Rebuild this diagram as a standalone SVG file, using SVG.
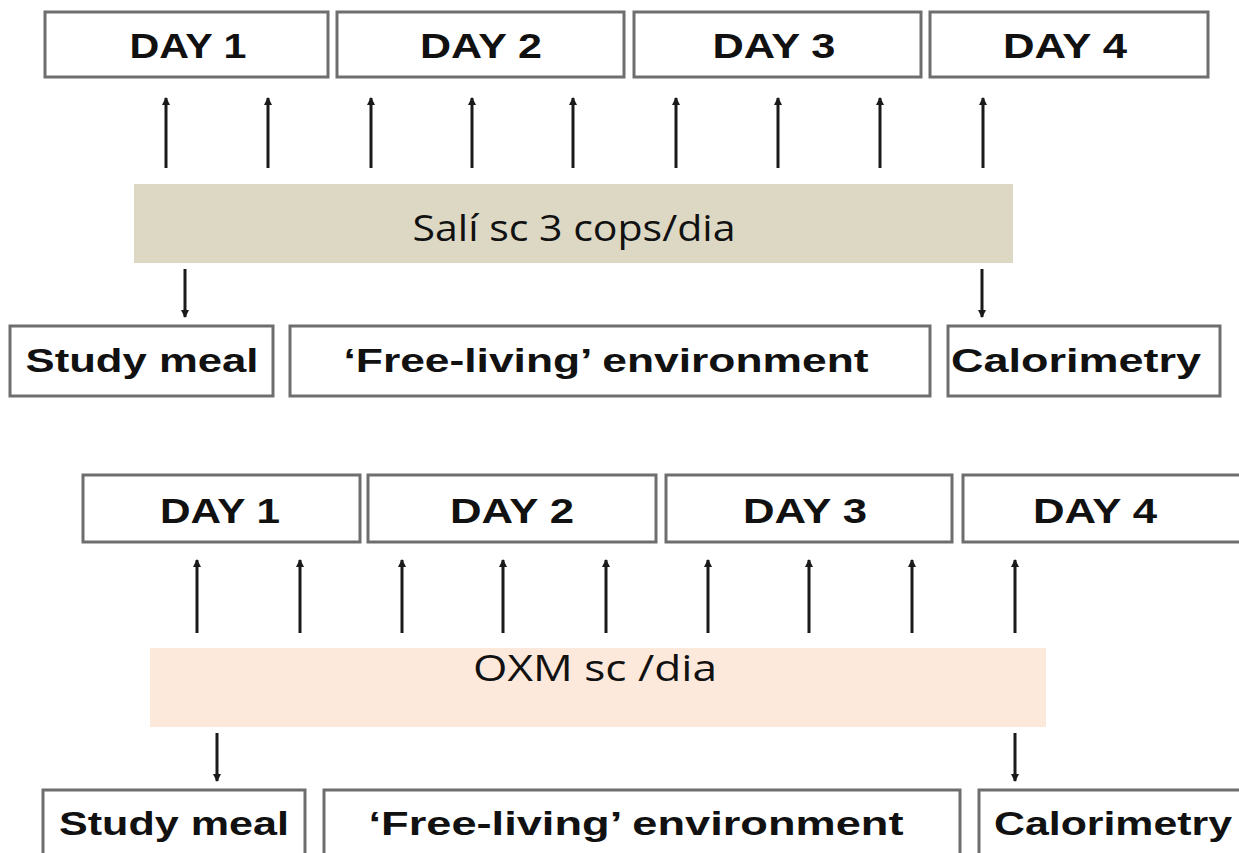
<svg xmlns="http://www.w3.org/2000/svg" width="1239" height="853" viewBox="0 0 1239 853">
<style>
.box{fill:#fff;stroke:#6e6e6e;stroke-width:3}
.day{font-family:"Liberation Sans",Arial,sans-serif;font-weight:bold;font-size:35px;fill:#111;text-anchor:middle}
.lbl{font-family:"Liberation Sans",Arial,sans-serif;font-weight:bold;font-size:34px;fill:#111;text-anchor:middle}
.ban{font-family:"Open Sans","Noto Sans",sans-serif;font-size:37px;fill:#111;text-anchor:middle}
.arr{stroke:#1a1a1a;stroke-width:3;fill:none;marker-end:url(#ah)}
</style>
<defs>
<marker id="ah" markerUnits="userSpaceOnUse" markerWidth="9" markerHeight="8" refX="7" refY="4" orient="auto">
<path d="M0,0 L8,4 L0,8 z" fill="#1a1a1a"/>
</marker>
</defs>
<rect width="1239" height="853" fill="#fff"/>

<!-- top panel -->
<g id="t-day1"><rect class="box" x="45" y="12" width="283" height="65"/><text class="day" x="188" y="58" textLength="117" lengthAdjust="spacingAndGlyphs">DAY 1</text></g>
<g id="t-day2"><rect class="box" x="337" y="12" width="287" height="65"/><text class="day" x="481" y="58" textLength="122" lengthAdjust="spacingAndGlyphs">DAY 2</text></g>
<g id="t-day3"><rect class="box" x="634" y="12" width="287" height="65"/><text class="day" x="774" y="58" textLength="123" lengthAdjust="spacingAndGlyphs">DAY 3</text></g>
<g id="t-day4"><rect class="box" x="930" y="12" width="278" height="65"/><text class="day" x="1065" y="58" textLength="124" lengthAdjust="spacingAndGlyphs">DAY 4</text></g>
<g id="t-banner"><rect x="134" y="184" width="879" height="79" fill="#ddd8c4"/><text class="ban" x="574" y="241" textLength="323" lengthAdjust="spacingAndGlyphs">Salí sc 3 cops/dia</text></g>
<g id="t-meal"><rect class="box" x="10" y="326" width="263" height="70"/><text class="lbl" x="142" y="372" textLength="233" lengthAdjust="spacingAndGlyphs">Study meal</text></g>
<g id="t-free"><rect class="box" x="290" y="326" width="640" height="70"/><text class="lbl" x="606" y="372" textLength="525" lengthAdjust="spacingAndGlyphs">‘Free-living’ environment</text></g>
<g id="t-cal"><rect class="box" x="948" y="326" width="272" height="70"/><text class="lbl" x="1076" y="372" textLength="250" lengthAdjust="spacingAndGlyphs">Calorimetry</text></g>

<!-- bottom panel -->
<g id="b-day1"><rect class="box" x="83" y="475" width="277" height="67"/><text class="day" x="220" y="523" textLength="120" lengthAdjust="spacingAndGlyphs">DAY 1</text></g>
<g id="b-day2"><rect class="box" x="368" y="475" width="288" height="67"/><text class="day" x="512" y="523" textLength="124" lengthAdjust="spacingAndGlyphs">DAY 2</text></g>
<g id="b-day3"><rect class="box" x="666" y="475" width="286" height="67"/><text class="day" x="805" y="523" textLength="124" lengthAdjust="spacingAndGlyphs">DAY 3</text></g>
<g id="b-day4"><rect class="box" x="963" y="475" width="290" height="67"/><text class="day" x="1095" y="523" textLength="124" lengthAdjust="spacingAndGlyphs">DAY 4</text></g>
<g id="b-banner"><rect x="150" y="648" width="896" height="79" fill="#fce9db"/><text class="ban" x="595" y="681" textLength="244" lengthAdjust="spacingAndGlyphs">OXM sc /dia</text></g>
<g id="b-meal"><rect class="box" x="43" y="790" width="262" height="80"/><text class="lbl" x="174" y="835" textLength="230" lengthAdjust="spacingAndGlyphs">Study meal</text></g>
<g id="b-free"><rect class="box" x="324" y="790" width="636" height="80"/><text class="lbl" x="636" y="835" textLength="535" lengthAdjust="spacingAndGlyphs">‘Free-living’ environment</text></g>
<g id="b-cal"><rect class="box" x="979" y="790" width="280" height="80"/><text class="lbl" x="1113" y="835" textLength="238" lengthAdjust="spacingAndGlyphs">Calorimetry</text></g>

<g id="connectors">
<line class="arr" x1="166" y1="168" x2="166" y2="98"/>
<line class="arr" x1="268" y1="168" x2="268" y2="98"/>
<line class="arr" x1="371" y1="168" x2="371" y2="98"/>
<line class="arr" x1="472" y1="168" x2="472" y2="98"/>
<line class="arr" x1="573" y1="168" x2="573" y2="98"/>
<line class="arr" x1="676" y1="168" x2="676" y2="98"/>
<line class="arr" x1="778" y1="168" x2="778" y2="98"/>
<line class="arr" x1="880" y1="168" x2="880" y2="98"/>
<line class="arr" x1="983" y1="168" x2="983" y2="98"/>
<line class="arr" x1="185" y1="269" x2="185" y2="317"/>
<line class="arr" x1="982" y1="269" x2="982" y2="317"/>
<line class="arr" x1="197" y1="633" x2="197" y2="560"/>
<line class="arr" x1="300" y1="633" x2="300" y2="560"/>
<line class="arr" x1="402" y1="633" x2="402" y2="560"/>
<line class="arr" x1="503" y1="633" x2="503" y2="560"/>
<line class="arr" x1="606" y1="633" x2="606" y2="560"/>
<line class="arr" x1="708" y1="633" x2="708" y2="560"/>
<line class="arr" x1="809" y1="633" x2="809" y2="560"/>
<line class="arr" x1="912" y1="633" x2="912" y2="560"/>
<line class="arr" x1="1015" y1="633" x2="1015" y2="560"/>
<line class="arr" x1="217" y1="733" x2="217" y2="781"/>
<line class="arr" x1="1015" y1="733" x2="1015" y2="781"/>
</g>
</svg>
